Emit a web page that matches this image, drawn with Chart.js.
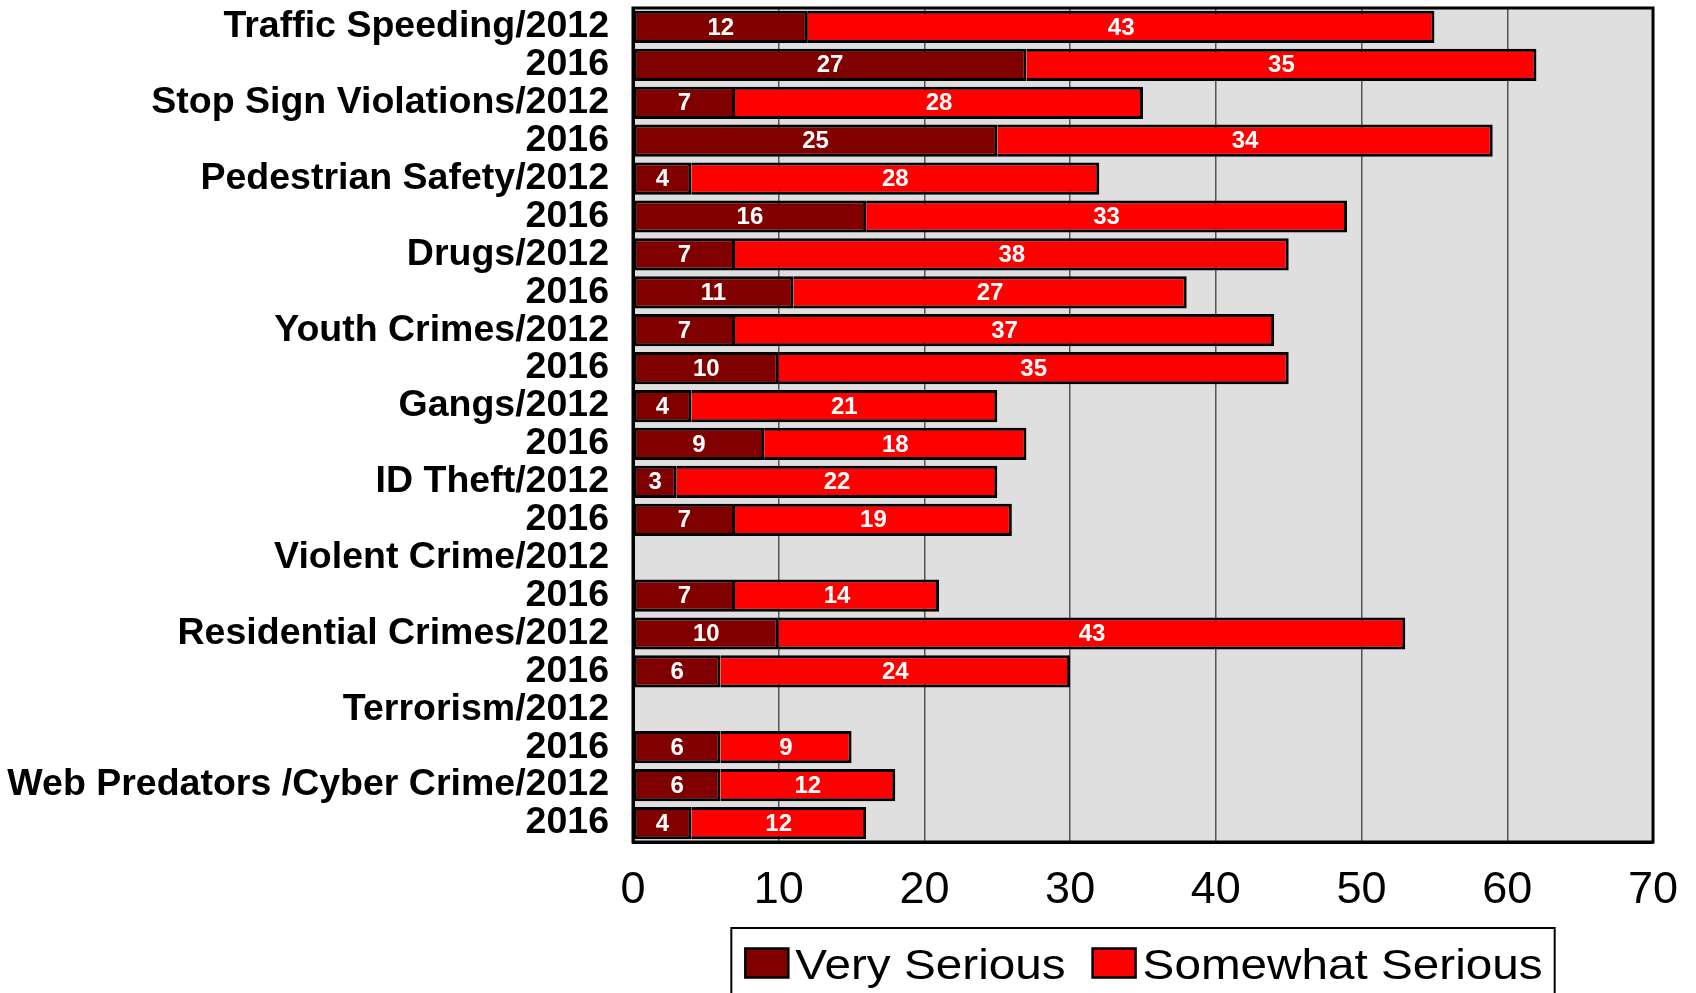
<!DOCTYPE html>
<html>
<head>
<meta charset="utf-8">
<script src="https://cdn.jsdelivr.net/npm/chart.js@4.4.1/dist/chart.umd.min.js"></script>
<style>
html,body{margin:0;padding:0;background:#fff;}
#wrap{width:1696px;height:993px;position:relative;}
</style>
</head>
<body>
<div id="wrap"><canvas id="c" width="1696" height="993"></canvas></div>
<script>
const categories = [
  "Traffic Speeding/2012", "2016",
  "Stop Sign Violations/2012", "2016",
  "Pedestrian Safety/2012", "2016",
  "Drugs/2012", "2016",
  "Youth Crimes/2012", "2016",
  "Gangs/2012", "2016",
  "ID Theft/2012", "2016",
  "Violent Crime/2012", "2016",
  "Residential Crimes/2012", "2016",
  "Terrorism/2012", "2016",
  "Web Predators /Cyber Crime/2012", "2016"
];
const verySerious = [12, 27, 7, 25, 4, 16, 7, 11, 7, 10, 4, 9, 3, 7, null, 7, 10, 6, null, 6, 6, 4];
const somewhatSerious = [43, 35, 28, 34, 28, 33, 38, 27, 37, 35, 21, 18, 22, 19, null, 14, 43, 24, null, 9, 12, 12];
const seriesNames = ["Very Serious", "Somewhat Serious"];
const xTicks = [0, 10, 20, 30, 40, 50, 60, 70];

const FONT = "'Liberation Sans', Arial, Helvetica, sans-serif";

const bgPlugin = {
  id: 'bg',
  beforeDraw(chart) {
    const {ctx, chartArea: a} = chart;
    ctx.save();
    ctx.fillStyle = '#DFDFDF';
    ctx.fillRect(a.left, a.top, a.right - a.left, a.bottom - a.top);
    ctx.restore();
  }
};

const labelPlugin = {
  id: 'segLabels',
  afterDatasetsDraw(chart) {
    const ctx = chart.ctx;
    ctx.save();
    ctx.font = "bold 24px " + FONT;
    ctx.fillStyle = '#FFFFFF';
    ctx.textAlign = 'center';
    ctx.textBaseline = 'middle';
    chart.data.datasets.forEach((ds, di) => {
      const meta = chart.getDatasetMeta(di);
      meta.data.forEach((el, i) => {
        const v = ds.data[i];
        if (v === null || v === undefined) return;
        const cx = (el.x + el.base) / 2;
        ctx.fillText(String(v), cx, el.y + 1);
      });
    });
    const a = chart.chartArea;
    ctx.strokeStyle = '#000';
    ctx.lineWidth = 3;
    ctx.strokeRect(a.left, a.top, a.right - a.left, a.bottom - a.top);
    ctx.restore();
  }
};

const legendPlugin = {
  id: 'customLegend',
  afterDraw(chart) {
    const ctx = chart.ctx;
    const a = chart.chartArea;
    const fontPx = 42, hScale = 1.135;
    const sqW = 43, sqH = 29, gapText = 7, gapItem = 27, padL = 14, padR = 12;
    ctx.save();
    ctx.font = fontPx + "px " + FONT;
    const items = chart.data.datasets.map(ds => ({
      text: ds.label, color: ds.backgroundColor,
      w: ctx.measureText(ds.label).width * hScale
    }));
    let total = padL + padR;
    items.forEach((it, i) => { total += sqW + gapText + it.w + (i < items.length - 1 ? gapItem : 0); });
    const cx = (a.left + a.right) / 2;
    const boxL = cx - total / 2;
    const boxT = 928;
    ctx.strokeStyle = '#000';
    ctx.lineWidth = 2;
    ctx.strokeRect(boxL, boxT, total, 100);
    let x = boxL + padL;
    const midY = 963;
    items.forEach((it) => {
      ctx.fillStyle = it.color;
      ctx.fillRect(x, midY - sqH / 2, sqW, sqH);
      ctx.lineWidth = 2.5;
      ctx.strokeStyle = '#000';
      ctx.strokeRect(x, midY - sqH / 2, sqW, sqH);
      x += sqW + gapText;
      ctx.save();
      ctx.translate(x, midY);
      ctx.scale(hScale, 1);
      ctx.fillStyle = '#000';
      ctx.textAlign = 'left';
      ctx.textBaseline = 'middle';
      ctx.fillText(it.text, 0, 4);
      ctx.restore();
      x += it.w + gapItem;
    });
    ctx.restore();
  }
};

new Chart(document.getElementById('c'), {
  type: 'bar',
  data: {
    labels: categories,
    datasets: [
      {
        label: seriesNames[0],
        data: verySerious,
        backgroundColor: '#800000',
        borderColor: '#000000',
        borderWidth: 3,
        borderSkipped: false,
        barPercentage: 0.85,
        categoryPercentage: 1.0
      },
      {
        label: seriesNames[1],
        data: somewhatSerious,
        backgroundColor: '#FF0000',
        borderColor: '#000000',
        borderWidth: {top: 3, bottom: 3, right: 3, left: 0},
        borderSkipped: false,
        barPercentage: 0.85,
        categoryPercentage: 1.0
      }
    ]
  },
  options: {
    indexAxis: 'y',
    responsive: false,
    animation: false,
    devicePixelRatio: 1,
    layout: { padding: { top: 8, right: 43, left: 0, bottom: 71 } },
    plugins: {
      legend: { display: false },
      tooltip: { enabled: false },
      title: { display: false }
    },
    scales: {
      x: {
        stacked: true,
        min: 0, max: 70,
        afterBuildTicks(scale) { scale.ticks = xTicks.map(v => ({ value: v })); },
        afterFit(scale) { scale.height = 80; scale.paddingLeft = 0; scale.paddingRight = 0; },
        ticks: {
          color: '#000',
          font: { family: FONT, size: 45 },
          padding: 22,
          maxRotation: 0
        },
        grid: { color: '#555', lineWidth: 1.5, drawTicks: false },
        border: { display: true, color: '#000', width: 3 }
      },
      y: {
        stacked: true,
        afterFit(scale) { scale.width = 633; scale.paddingTop = 0; scale.paddingBottom = 0; },
        ticks: {
          color: '#000',
          font: { family: FONT, size: 37.5, weight: 'bold' },
          padding: 24,
          autoSkip: false
        },
        grid: { display: false, drawTicks: false },
        border: { display: true, color: '#000', width: 3 }
      }
    }
  },
  plugins: [bgPlugin, labelPlugin, legendPlugin]
});
</script>
</body>
</html>
